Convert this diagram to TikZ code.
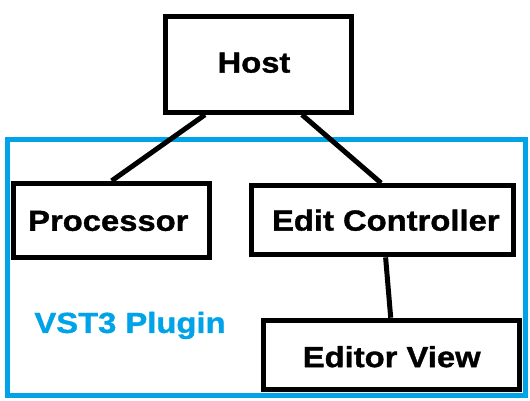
\documentclass[tikz,border=0pt]{standalone}
\usepackage{fontspec}
\newfontfamily\diafont{Liberation Sans}[FakeStretch=1.13,FakeBold=1.2]
\definecolor{paintblue}{RGB}{0,162,232}
\begin{document}
\begin{tikzpicture}[x=1pt,y=-1pt,
  blkbox/.style={draw=black,line width=5pt,inner sep=0pt,
    font=\diafont\bfseries\fontsize{29}{29}\selectfont,
    text height=20.8pt,text depth=0pt},
  conn/.style={draw=black,line width=5pt},
  plugframe/.style={draw=paintblue,line width=5pt,inner sep=0pt},
  plugtag/.style={text=paintblue,inner sep=0pt,
    font=\diafont\bfseries\fontsize{29}{29}\selectfont,
    text height=20.8pt,text depth=0pt}]
\useasboundingbox (0,0) rectangle (530,400);
% plugin frame
\node[plugframe,minimum width=517.8pt,minimum height=255.7pt] (plugin) at (266.4,267.35) {};
\node[plugtag] (plugtext) at (130,322.5) {VST3 Plugin};
% boxes
\node[blkbox,minimum width=185.4pt,minimum height=95.5pt,text depth=4.6pt] (host) at (258.5,64.5) {Host\hspace*{9pt}};
\node[blkbox,minimum width=196.3pt,minimum height=74.2pt] (proc) at (111.7,220.4) {Processor\hspace*{6.8pt}};
\node[blkbox,minimum width=262.2pt,minimum height=69.3pt] (ec) at (382.6,220.2) {\hspace*{6.4pt}Edit Controller};
\node[blkbox,minimum width=256.3pt,minimum height=69pt,text height=24.8pt] (ev) at (391.7,354.7) {Editor View};
% connectors
\draw[conn] ([xshift=-53.5pt]host.south) -- (proc.north);
\draw[conn] ([xshift=43.5pt]host.south) -- ([xshift=-1.5pt]ec.north);
\draw[conn] ([xshift=3pt]ec.south) -- ([xshift=-1pt]ev.north);
\end{tikzpicture}
\end{document}
